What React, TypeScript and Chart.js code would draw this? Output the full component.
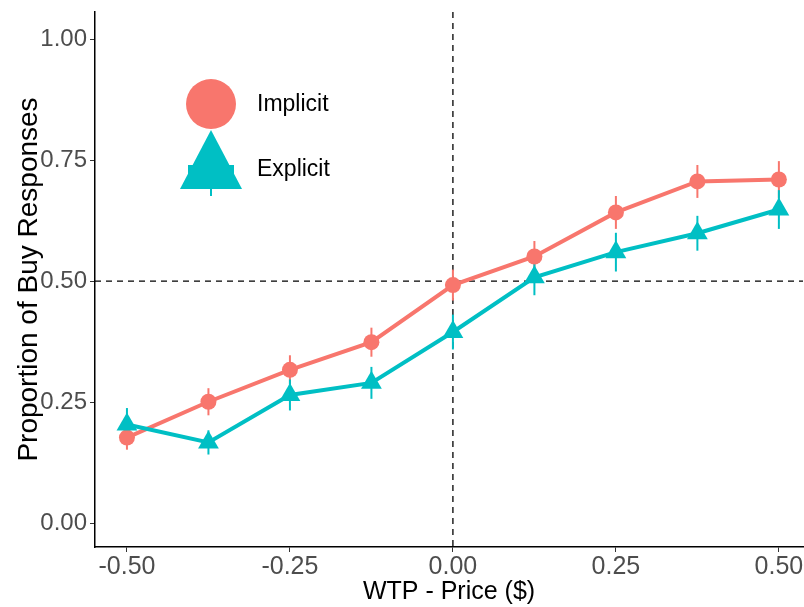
import React, { useEffect, useRef } from "react";
import { Chart, registerables } from "chart.js";

Chart.register(...registerables);

const xValues = [-0.5, -0.375, -0.25, -0.125, 0, 0.125, 0.25, 0.375, 0.5];
const implicitValues = [0.177, 0.251, 0.317, 0.374, 0.492, 0.551, 0.642, 0.706, 0.71];
const implicitErrors = [0.025, 0.028, 0.03, 0.03, 0.032, 0.032, 0.034, 0.034, 0.038];
const explicitValues = [0.204, 0.167, 0.265, 0.29, 0.395, 0.508, 0.56, 0.599, 0.648];
const explicitErrors = [0.034, 0.025, 0.032, 0.033, 0.036, 0.037, 0.04, 0.036, 0.04];
const xTicks = [-0.5, -0.25, 0, 0.25, 0.5];
const xTickLabels = ["-0.50", "-0.25", "0.00", "0.25", "0.50"];
const yTicks = [0, 0.25, 0.5, 0.75, 1];
const yTickLabels = ["0.00", "0.25", "0.50", "0.75", "1.00"];
const seriesNames = ["Implicit", "Explicit"];

const RED = "#F8766D";
const TEAL = "#00BFC4";
const FONT = "'Liberation Sans', Arial, sans-serif";

const areaFixPlugin = {
  id: "areaFix",
  afterLayout(chart: any) {
    const target = chart.width - 1;
    const a = chart.chartArea;
    const x = chart.scales.x;
    x.right = target;
    x.width = target - x.left;
    a.right = target;
    a.width = target - a.left;
    x.configure();
  },
};

const errorBarPlugin = {
  id: "errorBars",
  beforeDatasetsDraw(chart: any) {
    const ctx = chart.ctx;
    const xs = chart.scales.x;
    const ys = chart.scales.y;
    const sets = [
      { vals: implicitValues, errs: implicitErrors, color: RED },
      { vals: explicitValues, errs: explicitErrors, color: TEAL },
    ];
    ctx.save();
    ctx.lineWidth = 2;
    sets.forEach((s) => {
      ctx.strokeStyle = s.color;
      s.vals.forEach((v, i) => {
        const px = xs.getPixelForValue(xValues[i]);
        ctx.beginPath();
        ctx.moveTo(px, ys.getPixelForValue(v - s.errs[i]));
        ctx.lineTo(px, ys.getPixelForValue(v + s.errs[i]));
        ctx.stroke();
      });
    });
    ctx.restore();
  },
};

const refLinePlugin = {
  id: "refLines",
  beforeDatasetsDraw(chart: any) {
    const ctx = chart.ctx;
    const a = chart.chartArea;
    const xs = chart.scales.x;
    const ys = chart.scales.y;
    ctx.save();
    ctx.strokeStyle = "#000";
    ctx.lineWidth = 1.3;
    ctx.setLineDash([6, 5]);
    const y = ys.getPixelForValue(0.5);
    ctx.beginPath();
    ctx.moveTo(a.left, y);
    ctx.lineTo(a.right, y);
    ctx.stroke();
    const x = xs.getPixelForValue(0);
    ctx.beginPath();
    ctx.moveTo(x, a.top);
    ctx.lineTo(x, a.bottom);
    ctx.stroke();
    ctx.restore();
  },
};

const legendPlugin = {
  id: "customLegend",
  afterDraw(chart: any) {
    const ctx = chart.ctx;
    const a = chart.chartArea;
    const cx = a.left + 116;
    const cy1 = a.top + 92;
    const cy2 = a.top + 150;
    ctx.save();
    ctx.fillStyle = RED;
    ctx.beginPath();
    ctx.arc(cx, cy1, 25, 0, Math.PI * 2);
    ctx.fill();
    ctx.fillStyle = TEAL;
    ctx.fillRect(cx - 23, cy2 + 3, 46, 24);
    ctx.beginPath();
    ctx.moveTo(cx, cy2 - 32);
    ctx.lineTo(cx + 31, cy2 + 27);
    ctx.lineTo(cx - 31, cy2 + 27);
    ctx.closePath();
    ctx.fill();
    ctx.strokeStyle = TEAL;
    ctx.lineWidth = 2;
    ctx.beginPath();
    ctx.moveTo(cx, cy2 + 27);
    ctx.lineTo(cx, cy2 + 34);
    ctx.stroke();
    ctx.fillStyle = "#000";
    ctx.font = `23px ${FONT}`;
    ctx.textBaseline = "middle";
    ctx.textAlign = "left";
    ctx.fillText(seriesNames[0], cx + 46, cy1 + 1);
    ctx.fillText(seriesNames[1], cx + 46, cy2 + 8);
    ctx.restore();
  },
};

export default function App() {
  const ref = useRef<HTMLCanvasElement>(null);
  useEffect(() => {
    document.body.style.margin = "0";
    const canvas = ref.current!;
    const chart = new Chart(canvas, {
      type: "line",
      data: {
        datasets: [
          {
            label: seriesNames[0],
            data: xValues.map((x, i) => ({ x, y: implicitValues[i] })),
            borderColor: RED,
            backgroundColor: RED,
            borderWidth: 4,
            pointStyle: "circle",
            pointRadius: 8,
            pointBorderWidth: 0,
            order: 1,
          },
          {
            label: seriesNames[1],
            data: xValues.map((x, i) => ({ x, y: explicitValues[i] })),
            borderColor: TEAL,
            backgroundColor: TEAL,
            borderWidth: 4,
            pointStyle: "triangle",
            pointRadius: 12,
            pointBorderWidth: 0,
            order: 0,
          },
        ],
      },
      options: {
        responsive: false,
        animation: false,
        devicePixelRatio: 1,
        layout: { padding: { top: 10, right: 1, left: 0, bottom: 0 } },
        plugins: { legend: { display: false }, tooltip: { enabled: false } },
        scales: {
          x: {
            type: "linear",
            min: -0.549,
            max: 0.537,
            afterBuildTicks: (s: any) => {
              s.ticks = xTicks.map((v) => ({ value: v }));
            },
            afterFit: (s: any) => {
              s.height = 60;
              s.paddingLeft = 0;
              s.paddingRight = 0;
            },
            ticks: {
              color: "#4D4D4D",
              font: { family: FONT, size: 25 },
              padding: 0,
              autoSkip: false,
              maxRotation: 0,
              callback: (v: any) => {
                const i = xTicks.indexOf(Number(v));
                return i >= 0 ? xTickLabels[i] : "";
              },
            },
            grid: { drawOnChartArea: false, drawTicks: true, tickLength: 5, color: "#333" },
            border: { display: true, color: "#000", width: 1.5 },
            title: {
              display: true,
              text: "WTP - Price ($)",
              color: "#000",
              font: { family: FONT, size: 25 },
              padding: { top: 0, bottom: 0 },
            },
          },
          y: {
            type: "linear",
            min: -0.049,
            max: 1.056,
            afterBuildTicks: (s: any) => {
              s.ticks = yTicks.map((v) => ({ value: v }));
            },
            afterFit: (s: any) => {
              s.width = 95;
              s.paddingTop = 0;
              s.paddingBottom = 0;
            },
            ticks: {
              color: "#4D4D4D",
              font: { family: FONT, size: 24 },
              padding: 3,
              callback: (v: any) => {
                const i = yTicks.indexOf(Number(v));
                return i >= 0 ? yTickLabels[i] : "";
              },
            },
            grid: { drawOnChartArea: false, drawTicks: true, tickLength: 5, color: "#333" },
            border: { display: true, color: "#000", width: 1.5 },
            title: {
              display: true,
              text: "Proportion of Buy Responses",
              color: "#000",
              font: { family: FONT, size: 28 },
              padding: { top: 12, bottom: 0 },
            },
          },
        },
      },
      plugins: [areaFixPlugin, refLinePlugin, errorBarPlugin, legendPlugin],
    } as any);
    return () => chart.destroy();
  }, []);
  return (
    <div style={{ width: 804, height: 607 }}>
      <canvas ref={ref} width={804} height={607} />
    </div>
  );
}
